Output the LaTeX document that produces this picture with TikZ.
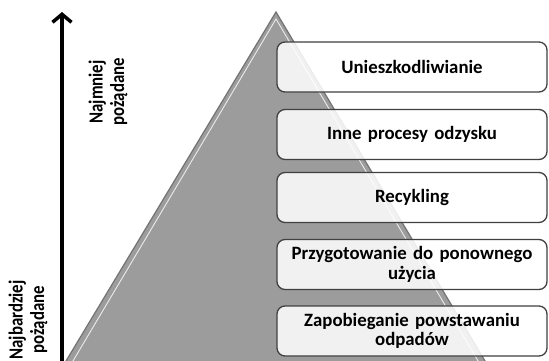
\documentclass[tikz,border=0pt]{standalone}
\usepackage{fontspec}
\setmainfont{Carlito}[WordSpace=0.6]
\newfontfamily\narrowfont{Carlito}[FakeStretch=0.84]
\usetikzlibrary{arrows.meta}

\tikzset{
  stage/.style={draw=black!75, line width=1.3pt, rounded corners=8pt,
    fill=white, fill opacity=0.86, text opacity=1,
    minimum width=270pt, minimum height=50pt, text width=262pt,
    align=center, inner sep=0pt,
    font=\fontsize{18.8}{19.5}\selectfont\bfseries},
  side/.style={rotate=90, align=center, inner sep=0pt,
    font=\narrowfont\fontsize{20}{21.5}\selectfont\bfseries},
  axis/.style={line width=3.5pt, -{Straight Barb[length=8pt,width=19pt,line width=3.5pt]}}
}

\begin{document}
\begin{tikzpicture}[x=1pt,y=-1pt]
            \useasboundingbox (0,0) rectangle (549,361);

            % pyramid
            \fill[black!39] (276,12) -- (488,366) -- (63,366) -- cycle;
            \draw[black!55, line width=1.2pt] (63,366) -- (276,12) -- (488,366);
            \draw[black!8, line width=0.9pt] (70,366) -- (276,19) -- (481,366);

            % axis
            \coordinate (low) at (62,362);
            \coordinate (high) at (62,12);
            \draw[axis] (low) -- (high);

            \node[side] (least) at (108,92) {Najmniej\\pożądane};
            \node[side] (most) at (28,320) {Najbardziej\\pożądane};

            % stages
            \node[stage] (disposal) at (412,67) {Unieszkodliwianie};
            \node[stage] (recovery) at (412,134.5) {Inne procesy odzysku};
            \node[stage] (recycling) at (412,197.5) {Recykling};
            \node[stage] (reuse) at (412,264.5) {Przygotowanie do ponownego\\użycia};
            \node[stage] (prevention) at (412,331) {Zapobieganie powstawaniu\\odpadów};
        \end{tikzpicture}
\end{document}
